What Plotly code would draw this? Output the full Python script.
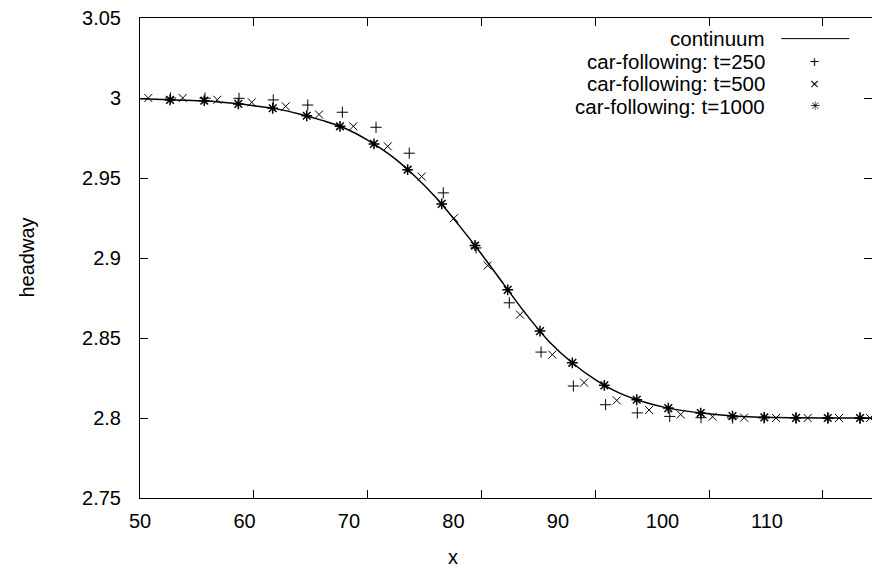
import plotly.graph_objects as go

# continuum solution
cont_x = [50, 52, 54, 56, 58, 60, 62, 64, 66, 68, 70, 72, 74, 76, 78, 80, 82, 84, 86, 88,
          90, 92, 94, 96, 98, 100, 102, 104, 106, 108, 110, 112, 114, 114.4]
cont_y = [2.9995, 2.9990, 2.9986, 2.9981, 2.9968, 2.9952, 2.9932, 2.9900, 2.9860, 2.9811,
          2.9737, 2.9643, 2.9522, 2.9378, 2.9207, 2.9025, 2.8832, 2.8642, 2.8474, 2.8344,
          2.8240, 2.8160, 2.8106, 2.8068, 2.8043, 2.8026, 2.8013, 2.8006, 2.8003, 2.8001,
          2.8000, 2.8000, 2.8000, 2.8000]

# car-following t=250
t250_x = [52.68, 55.71, 58.70, 61.71, 64.74, 67.78, 70.74, 73.66, 76.65, 79.53, 82.45, 85.24,
          88.08, 90.91, 93.70, 96.55, 99.30, 102.07, 104.83, 107.64, 110.46, 113.27]
t250_y = [3.0000, 2.9999, 2.9998, 2.9988, 2.9956, 2.9911, 2.9817, 2.9655, 2.9407, 2.9063,
          2.8720, 2.8412, 2.8200, 2.8083, 2.8032, 2.8010, 2.8002, 2.8000, 2.8000, 2.8000,
          2.8000, 2.8000]

# car-following t=500
t500_x = [50.73, 53.75, 56.79, 59.82, 62.80, 65.73, 68.74, 71.77, 74.75, 77.59, 80.55, 83.39,
          86.23, 89.02, 91.89, 94.73, 97.51, 100.31, 103.08, 105.89, 108.67, 111.42, 114.15]
t500_y = [3.0000, 3.0000, 2.9989, 2.9973, 2.9948, 2.9897, 2.9823, 2.9698, 2.9509, 2.9249,
          2.8953, 2.8646, 2.8396, 2.8221, 2.8110, 2.8050, 2.8022, 2.8008, 2.8002, 2.8000,
          2.8000, 2.8000, 2.8000]

# car-following t=1000
t1000_x = [52.64, 55.65, 58.64, 61.66, 64.65, 67.57, 70.56, 73.52, 76.51, 79.44, 82.31, 85.15,
           87.99, 90.80, 93.65, 96.42, 99.27, 102.06, 104.86, 107.65, 110.43, 113.27]
t1000_y = [2.9988, 2.9983, 2.9963, 2.9936, 2.9889, 2.9823, 2.9713, 2.9552, 2.9338, 2.9078,
           2.8801, 2.8543, 2.8345, 2.8204, 2.8114, 2.8062, 2.8031, 2.8012, 2.8004, 2.8001,
           2.8000, 2.8000]

x_ticks = [50, 60, 70, 80, 90, 100, 110]
y_ticks = [2.75, 2.8, 2.85, 2.9, 2.95, 3.0, 3.05]
y_tick_text = ["2.75", "2.8", "2.85", "2.9", "2.95", "3", "3.05"]

legend_names = ["continuum", "car-following: t=250", "car-following: t=500",
                "car-following: t=1000"]

FONT = "Liberation Sans, Arial, Helvetica, sans-serif"

fig = go.Figure()
fig.add_trace(go.Scatter(x=cont_x, y=cont_y, mode="lines", name=legend_names[0],
                         line=dict(color="black", width=1.5, shape="spline"),
                         showlegend=False, hoverinfo="skip"))
fig.add_trace(go.Scatter(x=t250_x, y=t250_y, mode="markers", name=legend_names[1],
                         marker=dict(symbol="cross-thin-open", size=8, color="black",
                                     line=dict(color="black", width=1)),
                         showlegend=False))
fig.add_trace(go.Scatter(x=t500_x, y=t500_y, mode="markers", name=legend_names[2],
                         marker=dict(symbol="x-thin-open", size=8, color="black",
                                     line=dict(color="black", width=1)),
                         showlegend=False))
fig.add_trace(go.Scatter(x=t1000_x, y=t1000_y, mode="markers", name=legend_names[3],
                         marker=dict(symbol="asterisk-open", size=9, color="black",
                                     line=dict(color="black", width=1.5)),
                         showlegend=False))
# empty trace so the label axis (x2) is drawn
fig.add_trace(go.Scatter(x=[], y=[], xaxis="x2", yaxis="y", showlegend=False,
                         hoverinfo="skip"))

# gnuplot-style key: right-aligned text, sample on the right
row_y = [0.957, 0.910, 0.863, 0.816]
annos = []
for name, ry in zip(legend_names, row_y):
    annos.append(dict(text=name, x=0.856, y=ry, xref="paper", yref="paper",
                      xanchor="right", yanchor="middle", showarrow=False,
                      font=dict(family=FONT, size=20.5, color="black")))
samples = ["+", "×", "\u2733\ufe0e"]
sample_sizes = [13, 13, 12]
for s, sz, ry in zip(samples, sample_sizes, row_y[1:]):
    annos.append(dict(text=s, x=0.922, y=ry, xref="paper", yref="paper",
                      xanchor="center", yanchor="middle", showarrow=False,
                      font=dict(family="DejaVu Sans", size=sz, color="black")))
annos.append(dict(text="x", x=0.4276, y=-0.122, xref="paper", yref="paper",
                  xanchor="center", yanchor="middle", showarrow=False,
                  font=dict(family=FONT, size=20, color="black")))
annos.append(dict(text="headway", x=-0.155, y=0.5, xref="paper", yref="paper",
                  xanchor="center", yanchor="middle", showarrow=False, textangle=-90,
                  font=dict(family=FONT, size=20, color="black")))

fig.update_layout(
    width=872, height=569, autosize=False,
    margin=dict(l=140, r=0, t=18, b=71),
    paper_bgcolor="white", plot_bgcolor="white",
    annotations=annos,
    shapes=[dict(type="line", xref="paper", yref="paper", x0=0.876, x1=0.969,
                 y0=row_y[0], y1=row_y[0], line=dict(color="black", width=1))],
    xaxis=dict(range=[50, 114.32], tickvals=x_ticks, ticks="inside", ticklen=8,
               tickcolor="black", showline=True, linecolor="black", linewidth=1,
               mirror="ticks", showgrid=False, zeroline=False,
               showticklabels=False),
    xaxis2=dict(overlaying="x", anchor="y", side="bottom", range=[50, 120.05],
                tickvals=x_ticks, ticks="", showline=False, showgrid=False,
                zeroline=False, tickfont=dict(family=FONT, size=20, color="black"),
                ticklabelstandoff=9),
    yaxis=dict(range=[2.75, 3.05], tickvals=y_ticks, ticktext=y_tick_text,
               ticks="inside", ticklen=8,
               tickcolor="black", showline=True, linecolor="black", linewidth=1,
               mirror="ticks", showgrid=False, zeroline=False,
               tickfont=dict(family=FONT, size=20, color="black"),
               ticklabelstandoff=14),
)

fig.write_html("out.html")
